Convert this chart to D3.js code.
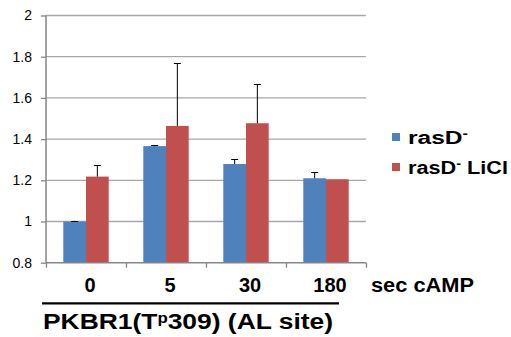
<!DOCTYPE html>
<html>
<head>
<meta charset="utf-8">
<script src="https://cdn.jsdelivr.net/npm/d3@7"></script>
<style>
    html, body { margin: 0; padding: 0; background: #fff; }
    svg { display: block; font-family: "Liberation Sans", Arial, sans-serif; }
</style>
</head>
<body>
<svg id="chart"></svg>
<script>
// --- Data ---
const categories = ["0", "5", "30", "180"];
const seriesKeys = ["rasD", "rasDLiCl"];
const rasD = [1.0, 1.366, 1.279, 1.21];
const rasDErr = [0.003, 0.004, 0.023, 0.029];
const rasDLiCl = [1.218, 1.464, 1.477, 1.205];
const rasDLiClErr = [0.056, 0.304, 0.19, 0];
const yTicks = [0.8, 1, 1.2, 1.4, 1.6, 1.8, 2];
const yTickLabels = ["0.8", "1", "1.2", "1.4", "1.6", "1.8", "2"];
const legendTails = ["", " LiCl"];
const xUnit = "sec cAMP";
const titleParts = ["PKBR1(T", "p", "309) (AL site)"];

const colors = ["#4f81bd", "#c0504d"];
const values = [rasD, rasDLiCl];
const errors = [rasDErr, rasDLiClErr];

const width = 511;
const height = 337;
const plotL = 46, plotR = 366, plotT = 15.5, plotB = 262.7;

const svg = d3.select("#chart").attr("width", width).attr("height", height);

// --- Scales ---
const x = d3.scaleBand().domain(categories).range([plotL, plotR]);
const groupW = 45.4;
const xs = d3.scaleBand()
    .domain(seriesKeys)
    .range([x.bandwidth() / 2 - groupW / 2, x.bandwidth() / 2 + groupW / 2]);
const y = d3.scaleLinear().domain([0.8, 2]).range([plotB, plotT]);
const xEdges = d3.scaleLinear().domain([0, categories.length]).range([plotL, plotR]);

// gridlines
svg.append("g")
    .selectAll("line")
    .data(yTicks.filter((d) => d > 0.8))
    .enter()
    .append("line")
    .attr("x1", plotL)
    .attr("x2", plotR)
    .attr("y1", (d) => y(d))
    .attr("y2", (d) => y(d))
    .attr("stroke", "#a6a6a6")
    .attr("stroke-width", 1.3);

// bars
seriesKeys.forEach((key, s) => {
    const g = svg.append("g");
    g.selectAll("rect")
        .data(categories)
        .enter()
        .append("rect")
        .attr("x", (c) => x(c) + xs(key))
        .attr("width", xs.bandwidth())
        .attr("y", (c, i) => y(values[s][i]))
        .attr("height", (c, i) => y(0.8) - y(values[s][i]))
        .attr("fill", colors[s]);

    // error bars (plus only)
    const cx = (c) => x(c) + xs(key) + xs.bandwidth() / 2;
    const idx = (c) => categories.indexOf(c);
    const eb = g.selectAll("g.err")
        .data(categories.filter((c, i) => errors[s][i] > 0))
        .enter()
        .append("g")
        .attr("stroke", "#000")
        .attr("stroke-width", 1);
    eb.append("line")
        .attr("x1", cx).attr("x2", cx)
        .attr("y1", (c) => y(values[s][idx(c)]))
        .attr("y2", (c) => y(values[s][idx(c)] + errors[s][idx(c)]));
    eb.append("line")
        .attr("x1", (c) => cx(c) - 3.5).attr("x2", (c) => cx(c) + 3.5)
        .attr("y1", (c) => Math.round(y(values[s][idx(c)] + errors[s][idx(c)])) + 0.5)
        .attr("y2", (c) => Math.round(y(values[s][idx(c)] + errors[s][idx(c)])) + 0.5);
});

// y axis
const yAxis = svg.append("g")
    .attr("transform", `translate(${plotL},0)`)
    .call(d3.axisLeft(y)
        .tickValues(yTicks)
        .tickSize(5)
        .tickPadding(9)
        .tickFormat((d, i) => yTickLabels[i]));
yAxis.select(".domain").attr("stroke", "#868686").attr("stroke-width", 1.5).attr("d", `M0,${plotT}V${plotB}`);
yAxis.selectAll(".tick line").attr("stroke", "#868686").attr("stroke-width", 1.3);
yAxis.selectAll(".tick text")
    .attr("font-size", 14)
    .attr("fill", "#000")
    .attr("font-family", "Liberation Sans, Arial, sans-serif");

// x axis (tick marks at category edges)
const xAxis = svg.append("g")
    .attr("transform", `translate(0,${plotB})`)
    .call(d3.axisBottom(xEdges)
        .ticks(categories.length)
        .tickSize(5)
        .tickFormat(""));
xAxis.select(".domain").attr("stroke", "#868686").attr("stroke-width", 1.5).attr("d", `M${plotL},0H${plotR}`);
xAxis.selectAll(".tick line").attr("stroke", "#868686").attr("stroke-width", 1.3);

// category labels
svg.append("g")
    .selectAll("text")
    .data(categories)
    .enter()
    .append("text")
    .attr("x", (c) => x(c) + x.bandwidth() / 2)
    .attr("dx", 4)
    .attr("y", 292)
    .attr("text-anchor", "middle")
    .attr("font-size", 20)
    .attr("font-weight", "bold")
    .text((c) => c);

svg.append("text")
    .attr("x", 371)
    .attr("y", 292)
    .attr("font-size", 20)
    .attr("font-weight", "bold")
    .attr("textLength", 103)
    .attr("lengthAdjust", "spacingAndGlyphs")
    .text(xUnit);

// underline + title
svg.append("line")
    .attr("x1", 42).attr("x2", 339)
    .attr("y1", 303.3).attr("y2", 303.3)
    .attr("stroke", "#000")
    .attr("stroke-width", 2.3);

const title = svg.append("text")
    .attr("x", 43)
    .attr("y", 329)
    .attr("font-size", 22)
    .attr("font-weight", "bold")
    .attr("textLength", 290)
    .attr("lengthAdjust", "spacingAndGlyphs");
title.append("tspan").text(titleParts[0]);
title.append("tspan").attr("font-size", 14).attr("dy", -6).text(titleParts[1]);
title.append("tspan").attr("dy", 6).text(titleParts[2]);

// --- Legend ---
const legend = svg.append("g");
seriesKeys.forEach((key, s) => {
    const ly = 133 + s * 30;
    legend.append("rect")
        .attr("x", 392).attr("y", ly)
        .attr("width", 8).attr("height", 8)
        .attr("fill", colors[s]);
    const t = legend.append("text")
        .attr("x", 408)
        .attr("y", ly + 10.5)
        .attr("font-size", 18)
        .attr("font-weight", "bold")
        .attr("textLength", s === 0 ? 60 : 100)
        .attr("lengthAdjust", "spacingAndGlyphs");
    t.append("tspan").text("rasD");
    t.append("tspan").attr("font-size", 12).attr("dy", -6).text("-");
    t.append("tspan").attr("dy", 6).text(legendTails[s]);
});
</script>
</body>
</html>
